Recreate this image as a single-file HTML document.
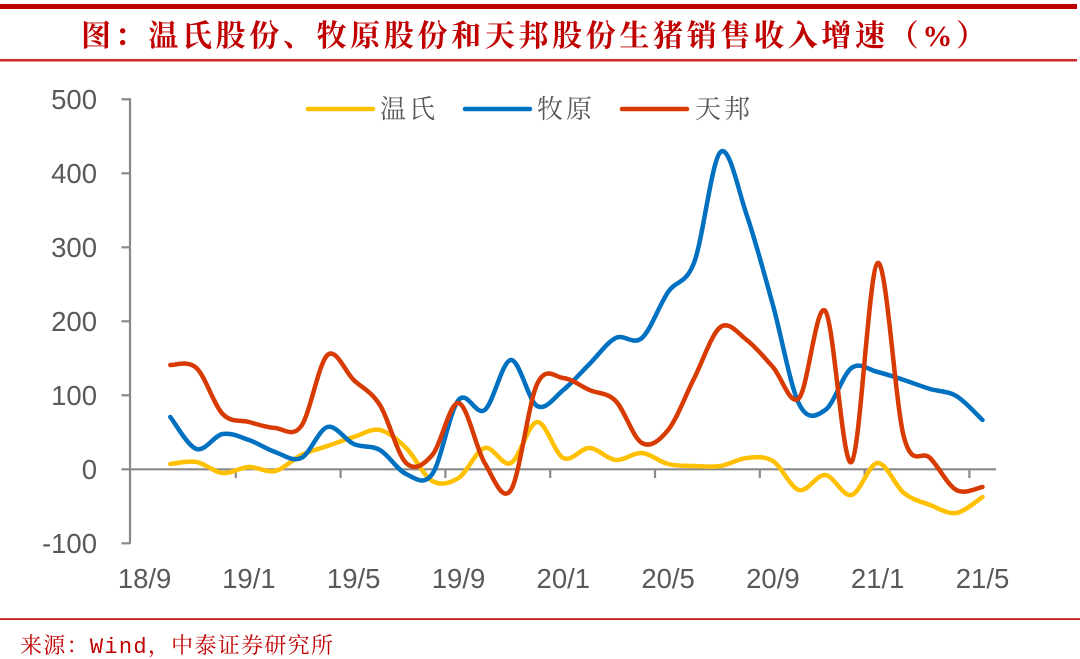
<!DOCTYPE html>
<html>
<head>
<meta charset="utf-8">
<style>
  html,body{margin:0;padding:0;background:#fff;}
  body{width:1080px;height:659px;overflow:hidden;}
  svg{display:block;}
  .tick{font-family:"Liberation Sans",Arial,sans-serif;font-size:27.5px;fill:#595959;}
  .leg{font-family:"Liberation Serif","Noto Serif CJK SC","Noto Sans CJK SC",serif;font-size:26px;fill:#595959;}
  .title{font-family:"Liberation Serif","Noto Serif CJK SC","Noto Sans CJK SC",serif;font-size:30px;font-weight:700;fill:#C00000;}
  .src{font-family:"Liberation Mono","Noto Serif CJK SC","Noto Sans CJK SC",monospace;font-size:22px;fill:#C00000;}
</style>
</head>
<body>
<svg width="1080" height="659" viewBox="0 0 1080 659" xmlns="http://www.w3.org/2000/svg">
  <rect x="0" y="0" width="1080" height="659" fill="#ffffff"/>
  <!-- header bars -->
  <rect x="0" y="4" width="1077" height="5" fill="#C00000"/>
  <rect x="0" y="59" width="1077" height="2.5" fill="#CC2A2A"/>
  <text class="title" x="81" y="46" textLength="905" lengthAdjust="spacing">图：温氏股份、牧原股份和天邦股份生猪销售收入增速（%）</text>

  <!-- axes -->
  <g stroke="#898989" stroke-width="2.2" fill="none">
    <line x1="130" y1="98.3" x2="130" y2="544"/>
    <line x1="121.5" y1="99.3" x2="130" y2="99.3"/>
    <line x1="121.5" y1="173.3" x2="130" y2="173.3"/>
    <line x1="121.5" y1="247.3" x2="130" y2="247.3"/>
    <line x1="121.5" y1="321.3" x2="130" y2="321.3"/>
    <line x1="121.5" y1="395.3" x2="130" y2="395.3"/>
    <line x1="121.5" y1="469.3" x2="130" y2="469.3"/>
    <line x1="121.5" y1="543.3" x2="130" y2="543.3"/>
    <line x1="130" y1="469.3" x2="996" y2="469.3"/>
    <line x1="235.8" y1="469.3" x2="235.8" y2="478"/>
    <line x1="340.6" y1="469.3" x2="340.6" y2="478"/>
    <line x1="445.4" y1="469.3" x2="445.4" y2="478"/>
    <line x1="550.2" y1="469.3" x2="550.2" y2="478"/>
    <line x1="655" y1="469.3" x2="655" y2="478"/>
    <line x1="759.8" y1="469.3" x2="759.8" y2="478"/>
    <line x1="864.6" y1="469.3" x2="864.6" y2="478"/>
    <line x1="969.4" y1="469.3" x2="969.4" y2="478"/>
  </g>

  <!-- y labels -->
  <g class="tick" text-anchor="end">
    <text x="97" y="109.2">500</text>
    <text x="97" y="183.2">400</text>
    <text x="97" y="257.2">300</text>
    <text x="97" y="331.2">200</text>
    <text x="97" y="405.2">100</text>
    <text x="97" y="479.2">0</text>
    <text x="97" y="553.2">-100</text>
  </g>
  <!-- x labels -->
  <g class="tick" text-anchor="middle">
    <text x="144.6" y="588">18/9</text>
    <text x="248.9" y="588">19/1</text>
    <text x="353.7" y="588">19/5</text>
    <text x="458.5" y="588">19/9</text>
    <text x="563.3" y="588">20/1</text>
    <text x="668.1" y="588">20/5</text>
    <text x="772.9" y="588">20/9</text>
    <text x="877.7" y="588">21/1</text>
    <text x="982.5" y="588">21/5</text>
  </g>

  <!-- legend -->
  <g stroke-width="4.5" stroke-linecap="round">
    <line x1="308" y1="109" x2="373" y2="109" stroke="#FFC000"/>
    <line x1="465" y1="109" x2="530" y2="109" stroke="#0070C0"/>
    <line x1="622" y1="109" x2="687" y2="109" stroke="#D83B01"/>
  </g>
  <text class="leg" x="380" y="118" textLength="55" lengthAdjust="spacing">温氏</text>
  <text class="leg" x="537" y="118" textLength="55" lengthAdjust="spacing">牧原</text>
  <text class="leg" x="695" y="118" textLength="55" lengthAdjust="spacing">天邦</text>

  <!-- series -->
  <g fill="none" stroke-width="4.5" stroke-linecap="round" stroke-linejoin="round">
    <path class="ser" stroke="#FFC000" d="M170.3,464 L196.5,462 L222.7,473 L248.9,467 L275.1,471 L301.3,455 L327.5,446 L353.7,437 L379.9,430 L406.1,448 L432.3,481 L458.5,478 L484.7,448 L510.9,463 L537.1,422 L563.3,458 L589.5,448 L615.7,460 L641.9,453 L668.1,464 L694.3,466 L720.5,466 L746.7,458 L772.9,461 L799.1,490 L825.3,475 L851.5,495 L877.7,463 L903.9,493 L930.1,505 L956.3,513 L982.5,497"/>
    <path class="ser" stroke="#0070C0" d="M170.3,417 L196.5,449 L222.7,434 L248.9,440 L275.1,452 L301.3,458 L327.5,427 L353.7,444 L379.9,450 L406.1,474 L432.3,474 L458.5,400 L484.7,410 L510.9,360 L537.1,406 L563.3,390 L589.5,364 L615.7,338 L641.9,338 L668.1,292 L694.3,262 L720.5,152 L746.7,215 L772.9,305 L799.1,404 L825.3,410 L851.5,368 L877.7,372 L903.9,380 L930.1,389 L956.3,396 L982.5,420"/>
    <path class="ser" stroke="#D83B01" d="M170.3,365 L196.5,368 L222.7,414 L248.9,422 L275.1,428 L301.3,426 L327.5,355 L353.7,380 L379.9,405 L406.1,463 L432.3,455 L458.5,403 L484.7,463 L510.9,490 L537.1,384 L563.3,378 L589.5,390 L615.7,401 L641.9,443 L668.1,430 L694.3,378 L720.5,327 L746.7,340 L772.9,367 L799.1,398 L825.3,311 L851.5,462 L877.7,263 L903.9,437 L930.1,458 L956.3,490 L982.5,487"/>
  </g>

  <!-- footer -->
  <rect x="0" y="618.3" width="1080" height="1.6" fill="#C00000"/>
  <text class="src" x="20" y="653" textLength="313" lengthAdjust="spacing">来源：Wind，中泰证券研究所</text>
</svg>
<script>
(function(){
  var paths=document.querySelectorAll('path.ser');
  for(var s=0;s<paths.length;s++){
    var p=paths[s];
    var nums=p.getAttribute('d').match(/-?\d+(\.\d+)?/g).map(Number);
    var pts=[];
    for(var i=0;i<nums.length;i+=2)pts.push([nums[i],nums[i+1]]);
    var n=pts.length;
    var d='M'+pts[0][0]+','+pts[0][1];
    for(var i=0;i<n-1;i++){
      var p0=pts[i>0?i-1:i],p1=pts[i],p2=pts[i+1],p3=pts[i+2<n?i+2:i+1];
      var c1x=p1[0]+(p2[0]-p0[0])/6,c1y=p1[1]+(p2[1]-p0[1])/6;
      var c2x=p2[0]-(p3[0]-p1[0])/6,c2y=p2[1]-(p3[1]-p1[1])/6;
      d+=' C'+c1x.toFixed(2)+','+c1y.toFixed(2)+' '+c2x.toFixed(2)+','+c2y.toFixed(2)+' '+p2[0]+','+p2[1];
    }
    p.setAttribute('d',d);
  }
})();
</script>
</body>
</html>
